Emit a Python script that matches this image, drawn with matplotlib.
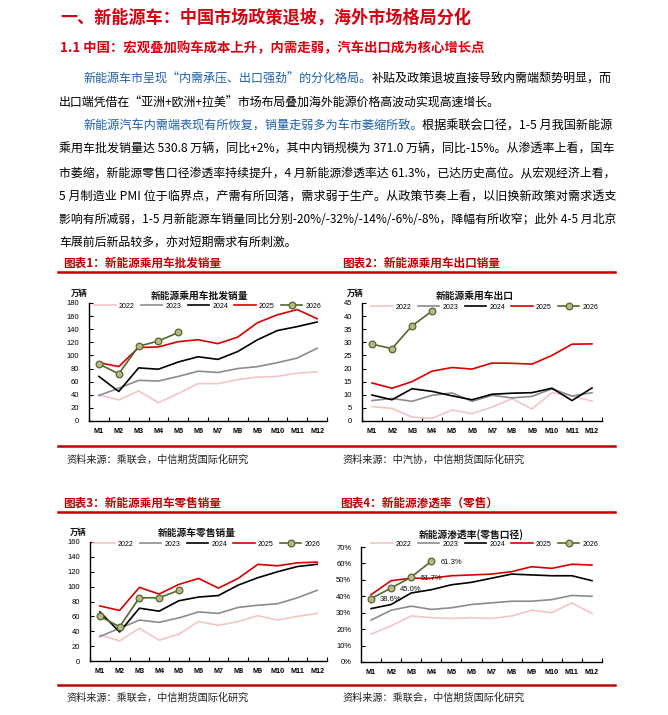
import matplotlib
matplotlib.use('Agg')
import matplotlib.pyplot as plt
import numpy as np
from matplotlib.lines import Line2D
from matplotlib.ticker import FuncFormatter

plt.rcParams['font.family'] = ['Liberation Sans', 'Noto Sans CJK SC', 'DejaVu Sans']
CJK = ['Noto Sans CJK SC', 'Liberation Sans', 'DejaVu Sans']

# ---------------- data ----------------
months = ['M1', 'M2', 'M3', 'M4', 'M5', 'M6', 'M7', 'M8', 'M9', 'M10', 'M11', 'M12']
years = ['2022', '2023', '2024', '2025', '2026']

# chart 1: wholesale NEV passenger cars (10k units)
wholesale_2022 = [40, 32, 46, 28, 42, 57, 57, 63, 67, 68, 73, 75]
wholesale_2023 = [39, 50, 62, 61, 68, 76, 74, 80, 83, 89, 96, 111]
wholesale_2024 = [68, 45, 81, 79, 90, 98, 94, 106, 124, 138, 144, 151]
wholesale_2025 = [89, 83, 112, 113, 121, 124, 118, 128, 150, 162, 170, 156]
wholesale_2026 = [87, 72, 114, 122, 135]

# chart 2: NEV passenger car exports (10k units)
export_2022 = [5.5, 4.8, 1.5, 1.0, 4.2, 2.8, 5.3, 8.5, 4.6, 10.8, 9.5, 7.6]
export_2023 = [7.8, 8.6, 7.5, 9.8, 10.7, 7.5, 9.8, 8.8, 9.4, 12.3, 9.5, 10.8]
export_2024 = [9.9, 8.1, 12.3, 11.3, 9.6, 8.1, 10.2, 10.6, 10.8, 12.5, 7.8, 12.6]
export_2025 = [14.5, 12.5, 15.0, 19.0, 20.4, 19.8, 22.1, 22.0, 21.7, 25.0, 29.3, 29.4]
export_2026 = [29.3, 27.6, 36.3, 41.9]

# chart 3: NEV retail sales (10k units)
retail_2022 = [35, 27, 44, 28, 36, 53, 48, 53, 61, 55, 60, 64]
retail_2023 = [33, 44, 55, 52, 58, 66, 64, 72, 75, 77, 85, 95]
retail_2024 = [66, 39, 71, 67, 81, 86, 88, 102, 112, 120, 127, 130]
retail_2025 = [74, 68, 99, 90, 103, 111, 98, 111, 130, 128, 132, 133]
retail_2026 = [60, 46, 85, 85, 95]

# chart 4: NEV penetration (retail, %)
pen_2022 = [17, 22, 28, 27, 26.5, 27, 26.5, 28, 31.5, 30, 36, 29.5]
pen_2023 = [25.5, 31.5, 34, 32, 33, 35, 36, 37, 37, 38, 40.5, 40]
pen_2024 = [32.5, 35, 42, 44, 47, 48.5, 51, 53.5, 53, 52.5, 52.5, 49.5]
pen_2025 = [41, 49.5, 51, 51, 52.5, 53, 53.5, 55, 58, 57, 59.5, 59]
pen_2026 = [38.6, 45.0, 51.7, 61.3]
pen_labels_2026 = ['38.6%', '45.0%', '51.7%', '61.3%']

# ---------------- figure ----------------
W, H = 668, 715
fig = plt.figure(figsize=(W / 100, H / 100), dpi=100)
renderer = fig.canvas.get_renderer()


def fx(x):
    return x / W


def fy(y):
    return 1 - y / H


RED_T = '#d9000f'
RED_C = '#c00000'
BLUE = '#1f5faa'

# headings
fig.text(fx(60), fy(18), '一、新能源车：中国市场政策退坡，海外市场格局分化',
         fontsize=12.3, fontweight='bold', color=RED_T, family=CJK, va='center', ha='left')
fig.text(fx(60), fy(48), '1.1 中国：宏观叠加购车成本上升，内需走弱，汽车出口成为核心增长点',
         fontsize=9.6, fontweight='bold', color=RED_T, family=CJK, va='center', ha='left')


def body_line(segments, x0, y, x1=None, size=8.6):
    texts, widths = [], []
    for s, c in segments:
        t = fig.text(fx(x0), fy(y), s, fontsize=size, color=c, family=CJK,
                     va='center', ha='left')
        widths.append(t.get_window_extent(renderer).width)
        texts.append(t)
    scale = 1.0
    if x1 is not None:
        scale = (x1 - x0) / sum(widths)
        scale = min(max(scale, 0.9), 1.1)
    x = x0
    for t, w in zip(texts, widths):
        t.set_fontsize(size * scale)
        t.set_position((fx(x), fy(y)))
        x += w * scale


K = '#000000'
XL, XI, XR = 59, 84, 612
body_line([('新能源车市呈现“内需承压、出口强劲”的分化格局。', BLUE),
           ('补贴及政策退坡直接导致内需端颓势明显，而', K)], XI, 79.5, XR)
body_line([('出口端凭借在“亚洲+欧洲+拉美”市场布局叠加海外能源价格高波动实现高速增长。', K)], XL, 103)
body_line([('新能源汽车内需端表现有所恢复，销量走弱多为车市萎缩所致。', BLUE),
           ('根据乘联会口径，1-5 月我国新能源', K)], XI, 126, XR)
body_line([('乘用车批发销量达 530.8 万辆，同比+2%，其中内销规模为 371.0 万辆，同比-15%。从渗透率上看，国车', K)], XL, 149.5, XR)
body_line([('市萎缩，新能源零售口径渗透率持续提升，4 月新能源渗透率达 61.3%，已达历史高位。从宏观经济上看，', K)], XL, 173, XR)
body_line([('5 月制造业 PMI 位于临界点，产需有所回落，需求弱于生产。从政策节奏上看，以旧换新政策对需求透支', K)], XL, 196, XR)
body_line([('影响有所减弱，1-5 月新能源车销量同比分别-20%/-32%/-14%/-6%/-8%，降幅有所收窄；此外 4-5 月北京', K)], XL, 219, XR)
body_line([('车展前后新品较多，亦对短期需求有所刺激。', K)], XL, 242.5)

# captions, separators, sources
def caption(x, y, s):
    fig.text(fx(x), fy(y), s, fontsize=8.4, fontweight='bold', color=RED_C,
             family=CJK, va='center', ha='left')


def hline(y):
    fig.add_artist(Line2D([fx(58), fx(615)], [fy(y), fy(y)], transform=fig.transFigure,
                          color=RED_C, lw=1.8))


def source(x, y, s):
    fig.text(fx(x), fy(y), s, fontsize=7.3, color='#222222', family=CJK,
             va='center', ha='left')


caption(63, 263, '图表1：新能源乘用车批发销量')
caption(342, 263, '图表2：新能源乘用车出口销量')
caption(63, 503, '图表3：新能源乘用车零售销量')
caption(340, 503, '图表4：新能源渗透率（零售）')
for yy in (272.5, 446, 512, 685):
    hline(yy)
source(66, 460, '资料来源：乘联会，中信期货国际化研究')
source(342, 460, '资料来源：中汽协，中信期货国际化研究')
source(66, 698, '资料来源：乘联会，中信期货国际化研究')
source(342, 698, '资料来源：乘联会，中信期货国际化研究')

# ---------------- charts ----------------
styles = {
    '2022': dict(color='#F4C4C6', lw=1.2),
    '2023': dict(color='#8C8C8C', lw=1.2),
    '2024': dict(color='#000000', lw=1.2),
    '2025': dict(color='#D90000', lw=1.2),
    '2026': dict(color='#55662E', lw=1.2, marker='o', ms=4.8, mfc='#B9B68A',
                 mec='#55662E', mew=0.9),
}


def chart(box, series, ymax, ystep, pct=False):
    left, top, right, bottom = box
    ax = fig.add_axes([fx(left), fy(bottom), (right - left) / W, (bottom - top) / H])
    for yr, vals in zip(years, series):
        ax.plot(np.arange(len(vals)), vals, **styles[yr], zorder=2 + years.index(yr))
    ax.set_xlim(-0.5, 11.5)
    ax.set_ylim(0, ymax)
    ax.set_xticks(np.arange(12))
    ax.set_xticklabels(months, fontsize=5.2, fontweight='bold')
    ax.set_xticks(np.arange(-0.5, 12, 1), minor=True)
    ax.tick_params(axis='x', which='major', length=0, pad=5)
    ax.tick_params(axis='x', which='minor', direction='in', length=3, width=0.8)
    ax.set_yticks(np.arange(0, ymax + 0.01, ystep))
    ax.tick_params(axis='y', direction='in', length=3, width=0.8, labelsize=5.5, pad=7)
    if pct:
        ax.yaxis.set_major_formatter(FuncFormatter(lambda v, p: f'{int(round(v))}%'))
    for s in ('top', 'right'):
        ax.spines[s].set_visible(False)
    for s in ('left', 'bottom'):
        ax.spines[s].set_linewidth(1.0)
    ax.set_facecolor('none')
    return ax


def legend(ax, x, y):
    handles = [Line2D([], [], **styles[yr]) for yr in years]
    ax.legend(handles, years, loc='center left', bbox_to_anchor=(fx(x), fy(y)),
              bbox_transform=fig.transFigure, ncol=5, frameon=False, fontsize=5,
              handlelength=3.1, handletextpad=0.45, columnspacing=0.9,
              borderpad=0, borderaxespad=0)


def chart_title(x, y, s, size=7):
    fig.text(fx(x), fy(y), s, fontsize=size, fontweight='bold', color='#111111',
             family=CJK, va='center', ha='center')


ax1 = chart((89, 303, 327, 421),
            [wholesale_2022, wholesale_2023, wholesale_2024, wholesale_2025, wholesale_2026], 180, 20)
legend(ax1, 94, 306)
chart_title(199, 296, '新能源乘用车批发销量')
chart_title(79.5, 293, '万辆', 6)

ax2 = chart((362, 303, 602, 421),
            [export_2022, export_2023, export_2024, export_2025, export_2026], 45, 5)
legend(ax2, 371, 307)
chart_title(475, 296, '新能源乘用车出口')
chart_title(355, 293, '万辆', 6)

ax3 = chart((90, 542, 327, 661),
            [retail_2022, retail_2023, retail_2024, retail_2025, retail_2026], 160, 20)
legend(ax3, 93, 544)
chart_title(197, 533, '新能源车零售销量')
chart_title(78.5, 532, '万辆', 6)

ax4 = chart((361, 547, 602, 662),
            [pen_2022, pen_2023, pen_2024, pen_2025, pen_2026], 70, 10, pct=True)
legend(ax4, 371, 544)
chart_title(471, 535, '新能源渗透率(零售口径)')
for i, (v, lab) in enumerate(zip(pen_2026, pen_labels_2026)):
    ax4.annotate(lab, (i, v), xytext=(6.5, -1), textcoords='offset points',
                 fontsize=5.5, va='center', ha='left', color='#111111', zorder=10)

fig.savefig('out.png', dpi=100, facecolor='white')
